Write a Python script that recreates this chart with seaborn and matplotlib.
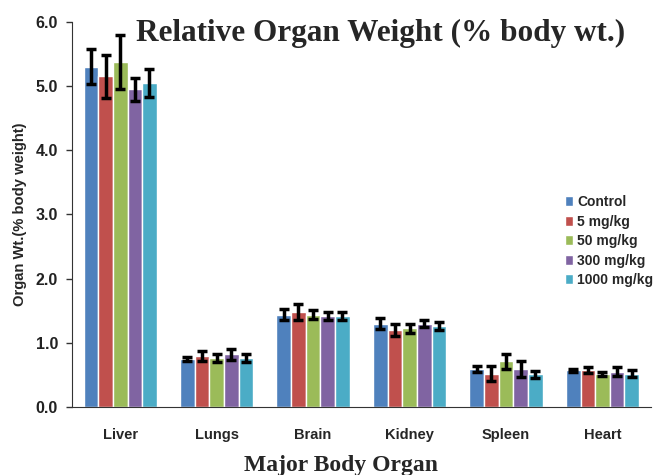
import pandas as pd
import numpy as np
import matplotlib
matplotlib.use('Agg')
import matplotlib.pyplot as plt
import seaborn as sns

# data
organs = ['Liver', 'Lungs', 'Brain', 'Kidney', 'Spleen', 'Heart']
groups = ['Control', '5 mg/kg', '50 mg/kg', '300 mg/kg', '1000 mg/kg']
control = [5.30, 0.75, 1.44, 1.30, 0.59, 0.57]
dose5 = [5.15, 0.80, 1.48, 1.20, 0.52, 0.58]
dose50 = [5.38, 0.76, 1.44, 1.23, 0.71, 0.52]
dose300 = [4.95, 0.82, 1.42, 1.30, 0.59, 0.55]
dose1000 = [5.05, 0.76, 1.42, 1.26, 0.51, 0.52]
err_control = [0.27, 0.03, 0.08, 0.09, 0.05, 0.03]
err_5 = [0.33, 0.08, 0.13, 0.09, 0.12, 0.05]
err_50 = [0.42, 0.06, 0.07, 0.07, 0.12, 0.03]
err_300 = [0.18, 0.08, 0.06, 0.06, 0.12, 0.07]
err_1000 = [0.22, 0.06, 0.06, 0.06, 0.05, 0.05]

colors = ['#4F81BD', '#C0504D', '#9BBB59', '#8064A2', '#4BACC6']

values = [control, dose5, dose50, dose300, dose1000]
errors = [err_control, err_5, err_50, err_300, err_1000]

rows = []
for g, vals, errs in zip(groups, values, errors):
    for o, v, e in zip(organs, vals, errs):
        rows.append({'organ': o, 'group': g, 'value': v, 'err': e})
df = pd.DataFrame(rows)

sns.set_style('white')
plt.rcParams['font.family'] = ['Liberation Sans', 'DejaVu Sans']

fig = plt.figure(figsize=(6.54, 4.75), dpi=100)
ax = fig.add_axes([0.110, 0.143, 0.885, 0.811])

sns.barplot(data=df, x='organ', y='value', hue='group', order=organs,
            hue_order=groups, palette=colors, errorbar=None, width=0.76,
            saturation=1, ax=ax)

# error bars at the bar centres
for cont, errs in zip(ax.containers, errors):
    xs = [p.get_x() + p.get_width() / 2 for p in cont.patches]
    hs = [p.get_height() for p in cont.patches]
    ax.errorbar(xs, hs, yerr=errs, fmt='none', ecolor='black',
                elinewidth=2.5, capsize=3.5, capthick=2.5)

ax.set_ylim(0, 6)
ax.set_xlim(-0.5, 5.5)
ax.set_yticks(np.arange(0, 6.1, 1))
ax.set_yticklabels([f'{t:.1f}' for t in np.arange(0, 6.1, 1)],
                   fontsize=11.5, fontweight='bold', color='#222222')
ax.set_xticks(range(len(organs)))
ax.set_xticklabels(organs, fontsize=10.5, fontweight='bold')
ax.set_xticks(np.arange(0.5, 5.5, 1), minor=True)
ax.tick_params(axis='x', which='major', length=0, pad=15)
ax.tick_params(axis='x', which='minor', length=5, width=1, direction='out', color='#333333')
ax.tick_params(axis='y', length=4, width=1, direction='out', color='#333333', left=True, pad=6)

sns.despine(ax=ax)
ax.spines['left'].set_color('#333333')
ax.spines['bottom'].set_color('#333333')

ax.set_ylabel('Organ Wt.(% body weight)', fontsize=10.6, fontweight='bold', labelpad=6)
ax.set_xlabel('Major Body Organ', fontsize=17, fontweight='bold',
              family='Liberation Serif')
ax.xaxis.set_label_coords(0.465, -0.125)

fig.text(0.582, 0.93, 'Relative Organ Weight (% body wt.)', ha='center', va='center',
         fontsize=22.5, fontweight='bold', family='Liberation Serif')

leg = ax.legend(loc='upper left', bbox_to_anchor=(0.842, 0.565), frameon=False,
                fontsize=10, handlelength=0.6, handleheight=0.7,
                handletextpad=0.3, labelspacing=0.4, borderaxespad=0)
for t in leg.get_texts():
    t.set_fontweight('bold')

plt.savefig('out.png', dpi=100)
